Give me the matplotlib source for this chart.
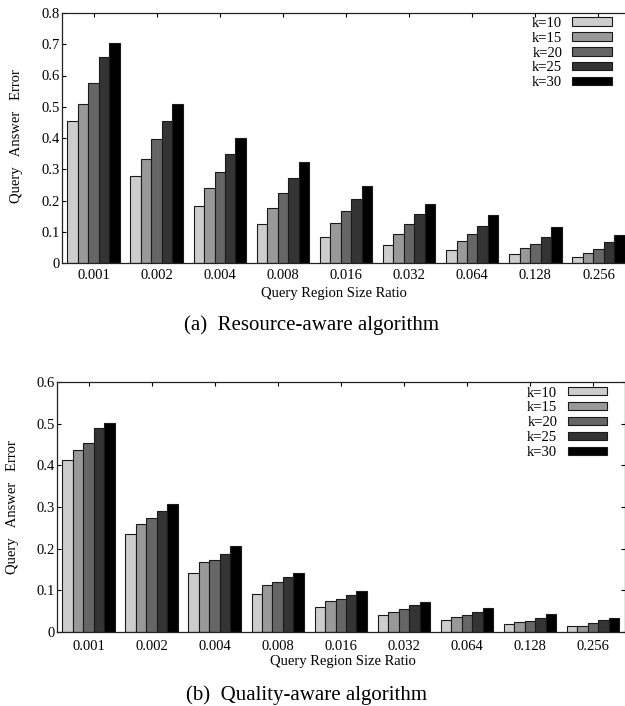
import matplotlib
matplotlib.use("Agg")
import matplotlib.pyplot as plt
import matplotlib.transforms as mtransforms
import numpy as np

plt.rcParams['font.family'] = ['Liberation Serif', 'DejaVu Serif']

ratios = ["0.001", "0.002", "0.004", "0.008", "0.016", "0.032", "0.064", "0.128", "0.256"]
k_labels = ["k=10", "k=15", "k=20", "k=25", "k=30"]

# (a) Resource-aware algorithm
res_k10 = [0.455, 0.279, 0.183, 0.124, 0.084, 0.058, 0.041, 0.030, 0.019]
res_k15 = [0.508, 0.333, 0.241, 0.175, 0.127, 0.093, 0.070, 0.049, 0.033]
res_k20 = [0.575, 0.396, 0.290, 0.225, 0.166, 0.124, 0.092, 0.060, 0.044]
res_k25 = [0.660, 0.454, 0.349, 0.273, 0.206, 0.156, 0.117, 0.083, 0.066]
res_k30 = [0.705, 0.508, 0.399, 0.322, 0.246, 0.190, 0.154, 0.115, 0.089]

# (b) Quality-aware algorithm
qua_k10 = [0.414, 0.236, 0.142, 0.092, 0.061, 0.040, 0.028, 0.020, 0.014]
qua_k15 = [0.438, 0.260, 0.169, 0.112, 0.075, 0.048, 0.035, 0.025, 0.015]
qua_k20 = [0.453, 0.274, 0.174, 0.120, 0.080, 0.055, 0.042, 0.026, 0.021]
qua_k25 = [0.489, 0.290, 0.188, 0.131, 0.088, 0.064, 0.049, 0.033, 0.028]
qua_k30 = [0.502, 0.308, 0.206, 0.142, 0.098, 0.071, 0.057, 0.043, 0.034]

colors = ["#cdcdcd", "#999999", "#666666", "#343434", "#000000"]

W, H = 625, 706
fig = plt.figure(figsize=(W / 100, H / 100), dpi=100)

def px_rect(l, t, r, b):
    return [l / W, 1 - b / H, (r - l) / W, (b - t) / H]

def draw_panel(rect, series, ymax, label_off, pad_x, leg_anchor):
    ax = fig.add_axes(rect)
    x = np.arange(len(ratios))
    bw = 0.166
    for j, (vals, c, lab) in enumerate(zip(series, colors, k_labels)):
        ax.bar(x + (j - 2) * bw, vals, width=bw, color=c, edgecolor="#1a1a1a",
               linewidth=0.8, label=lab)
    ax.set_xlim(-0.5, 8.5)
    ax.set_ylim(0, ymax)
    yt = np.arange(0, ymax + 1e-9, 0.1)
    ax.set_yticks(yt)
    ax.set_yticklabels(["0" if v == 0 else "%.1f" % v for v in yt])
    ax.set_xticks(x)
    ax.set_xticklabels(ratios)
    for lbl, off in zip(ax.get_xticklabels(), label_off):
        lbl.set_transform(lbl.get_transform() +
                          mtransforms.ScaledTranslation(off / 100, 0, fig.dpi_scale_trans))
    ax.tick_params(axis="x", direction="in", top=True, bottom=False, length=3,
                   labelsize=10.5, pad=pad_x)
    ax.tick_params(axis="y", direction="in", left=True, right=True, length=3,
                   labelsize=10.5, pad=1.5)
    for s in ax.spines.values():
        s.set_linewidth(0.9)
        s.set_color("#222222")
    ax.legend(loc="upper right", bbox_to_anchor=leg_anchor, frameon=False,
              markerfirst=False, fontsize=10.5, handlelength=2.7,
              handleheight=0.5, handletextpad=0.7, labelspacing=0.13,
              borderpad=0, borderaxespad=0)
    return ax

draw_panel(px_rect(62, 13, 630, 263),
           [res_k10, res_k15, res_k20, res_k25, res_k30], 0.8,
           [8, 5, 9, 9, 12, 8, 8, -2, 0], 4.5, (0.968, 0.985))
draw_panel(px_rect(57, 382, 624.5, 632),
           [qua_k10, qua_k15, qua_k20, qua_k25, qua_k30], 0.6,
           [8, 10, 12, -1, 9, 9, 8, 0, 5], 6.0, (0.969, 0.982))

def ftext(xp, yp, s, **kw):
    fig.text(xp / W, 1 - yp / H, s, ha="center", va="center", **kw)

ftext(17, 136, "Query   Answer   Error", rotation=90, fontsize=10.5)
ftext(13, 507, "Query   Answer   Error", rotation=90, fontsize=10.5)
ftext(334, 293, "Query Region Size Ratio", fontsize=10.5)
ftext(343, 662, "Query Region Size Ratio", fontsize=10.5)
ftext(311, 325, "(a)  Resource-aware algorithm", fontsize=15)
ftext(307, 695, "(b)  Quality-aware algorithm", fontsize=15)

fig.savefig("out.png", dpi=100)
